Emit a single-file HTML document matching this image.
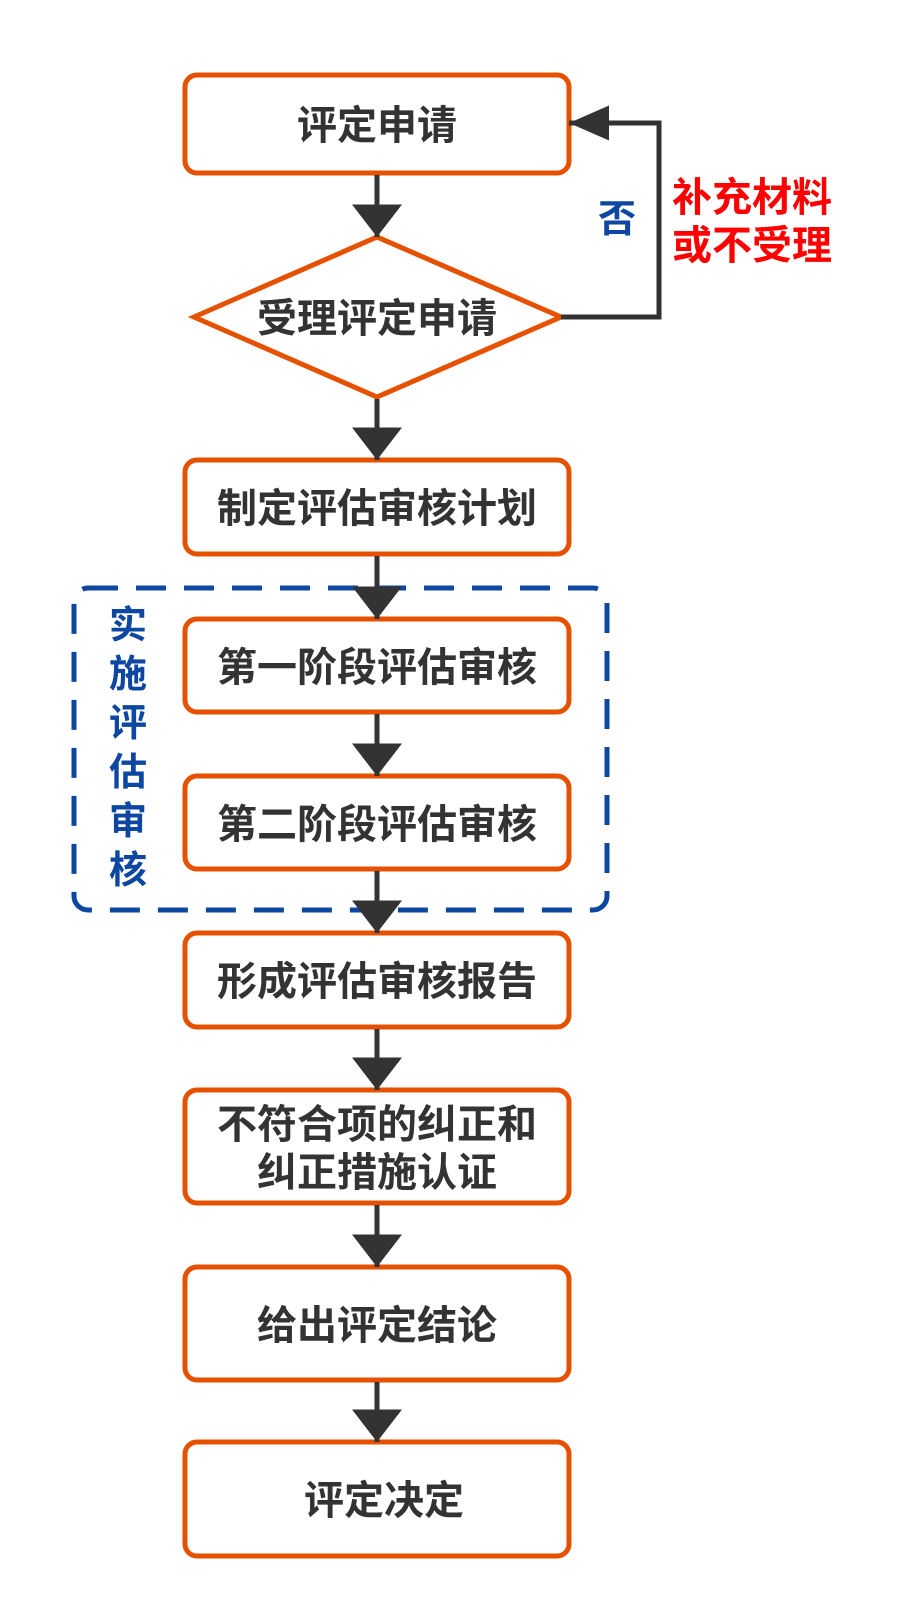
<!DOCTYPE html>
<html><head><meta charset="utf-8"><style>
body{margin:0;background:#fff;}
svg text{font-family:"Liberation Sans","Noto Sans CJK SC",sans-serif;font-weight:bold;}
</style></head><body>
<svg width="915" height="1614" viewBox="0 0 915 1614" xmlns="http://www.w3.org/2000/svg">
<defs>
<marker id="a" markerWidth="6.5" markerHeight="10" refX="6.5" refY="5" orient="auto" markerUnits="strokeWidth">
<path d="M0,0 L6.5,5 L0,10 Z" fill="#333"/>
</marker>
<marker id="b" markerWidth="8" markerHeight="7" refX="8" refY="3.5" orient="auto" markerUnits="strokeWidth">
<path d="M0,0 L8,3.5 L0,7 Z" fill="#333"/>
</marker>
</defs>
<g fill="none" stroke="#e65100" stroke-width="5">
<rect x="185" y="75" width="384" height="98" rx="12"/>
<polygon points="194,317 377,237 561,317 377,397"/>
<rect x="185" y="460" width="384" height="94" rx="12"/>
<rect x="185" y="619" width="384" height="93" rx="12"/>
<rect x="185" y="776" width="384" height="93" rx="12"/>
<rect x="185" y="933" width="384" height="94" rx="12"/>
<rect x="185" y="1090" width="384" height="113" rx="12"/>
<rect x="185" y="1267" width="384" height="113" rx="12"/>
<rect x="185" y="1442" width="384" height="114" rx="12"/>
</g>
<rect x="74" y="588" width="533" height="322" rx="14" fill="none" stroke="#0d47a1" stroke-width="5" stroke-dasharray="30,18"/>
<g stroke="#333" stroke-width="5" fill="none">
<line x1="377" y1="175" x2="377" y2="237" marker-end="url(#a)"/>
<line x1="377" y1="399" x2="377" y2="460" marker-end="url(#a)"/>
<line x1="377" y1="556" x2="377" y2="619" marker-end="url(#a)"/>
<line x1="377" y1="714" x2="377" y2="776" marker-end="url(#a)"/>
<line x1="377" y1="871" x2="377" y2="933" marker-end="url(#a)"/>
<line x1="377" y1="1029" x2="377" y2="1090" marker-end="url(#a)"/>
<line x1="377" y1="1205" x2="377" y2="1267" marker-end="url(#a)"/>
<line x1="377" y1="1382" x2="377" y2="1442" marker-end="url(#a)"/>
<polyline points="561,317 659,317 659,123 569,123" marker-end="url(#b)"/>
</g>
<g fill="#333" font-size="40" text-anchor="middle">
<text x="377" y="139">评定申请</text>
<text x="377" y="332">受理评定申请</text>
<text x="377" y="522">制定评估审核计划</text>
<text x="377" y="681">第一阶段评估审核</text>
<text x="377" y="838">第二阶段评估审核</text>
<text x="377" y="995">形成评估审核报告</text>
<text x="377" y="1138">不符合项的纠正和</text>
<text x="377" y="1186">纠正措施认证</text>
<text x="377" y="1339">给出评定结论</text>
<text x="384" y="1514">评定决定</text>
</g>
<g fill="#0d47a1" font-size="38" text-anchor="middle">
<text x="617" y="232">否</text>
<text x="128" y="638">实</text>
<text x="128" y="687">施</text>
<text x="128" y="736">评</text>
<text x="128" y="785">估</text>
<text x="128" y="834">审</text>
<text x="128" y="883">核</text>
</g>
<g fill="#ff0000" font-size="40">
<text x="672" y="211">补充材料</text>
<text x="672" y="259">或不受理</text>
</g>
</svg>
</body></html>
